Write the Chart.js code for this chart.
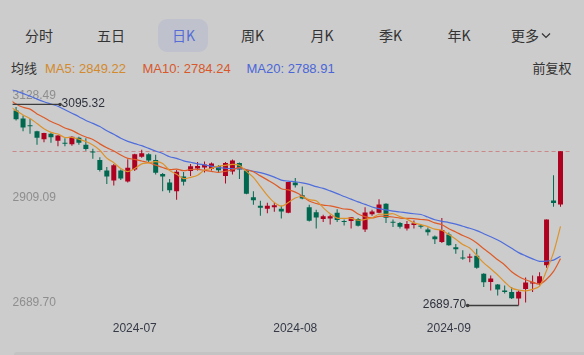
<!DOCTYPE html>
<html><head><meta charset="utf-8">
<script src="https://cdn.jsdelivr.net/npm/chart.js@4/dist/chart.umd.min.js"></script>
<style>
html,body{margin:0;padding:0;background:#cccccc;width:584px;height:355px;overflow:hidden;}
#wrap{position:relative;width:584px;height:355px;}
#c{position:absolute;left:0;top:0;}
.tab{position:absolute;top:25px;line-height:20px;height:20px;transform:translateX(-50%);font-size:14px;font-family:"Noto Sans CJK SC","Liberation Sans",sans-serif;color:#333;white-space:nowrap;}
#hl{position:absolute;left:158px;top:19px;width:50px;height:33px;border-radius:9px;background:#bfc2cc;}
.lg{position:absolute;top:60px;line-height:18px;font-size:13px;font-family:"Liberation Sans","Noto Sans CJK SC",sans-serif;white-space:nowrap;}
#strip{position:absolute;left:14px;top:352px;width:570px;height:3px;background:#c3c3c3;border-top-left-radius:3px;}
</style></head>
<body><div id="wrap">
<div id="hl"></div>
<div id="tabs"></div>
<div id="legend"></div>
<canvas id="c" width="584" height="355"></canvas>
<div id="strip"></div>
</div>
<script>
// ---------- data ----------
const preCloses = [3147.74,3128.48,3154.32,3154.55,3148.02,3145.77,3119.90,3122.40,3154.03,3171.15,3157.97,3158.54,3116.39,3088.87,3124.04,3109.57,3111.02,3091.68,3086.81];
const dates = [
'2024-06-03','2024-06-04','2024-06-05','2024-06-06','2024-06-07','2024-06-11','2024-06-12','2024-06-13','2024-06-14','2024-06-17','2024-06-18','2024-06-19','2024-06-20','2024-06-21','2024-06-24','2024-06-25','2024-06-26','2024-06-27','2024-06-28',
'2024-07-01','2024-07-02','2024-07-03','2024-07-04','2024-07-05','2024-07-08','2024-07-09','2024-07-10','2024-07-11','2024-07-12','2024-07-15','2024-07-16','2024-07-17','2024-07-18','2024-07-19','2024-07-22','2024-07-23','2024-07-24','2024-07-25','2024-07-26','2024-07-29','2024-07-30','2024-07-31',
'2024-08-01','2024-08-02','2024-08-05','2024-08-06','2024-08-07','2024-08-08','2024-08-09','2024-08-12','2024-08-13','2024-08-14','2024-08-15','2024-08-16','2024-08-19','2024-08-20','2024-08-21','2024-08-22','2024-08-23','2024-08-26','2024-08-27','2024-08-28','2024-08-29','2024-08-30',
'2024-09-02','2024-09-03','2024-09-04','2024-09-05','2024-09-06','2024-09-09','2024-09-10','2024-09-11','2024-09-12','2024-09-13','2024-09-18','2024-09-19','2024-09-20','2024-09-23','2024-09-24','2024-09-25','2024-09-26'];
const opens = [
3089,3070,3083,3067,3053,3041,3025,3036,3022,3017,3015,3028,3014,3000,2983,2962,2942,2962,2940,
2964,2990,2995,2983,2955,2938,2920,2950,2961,2966,2968,2965,2971,2951,2960,2977,2962,2908,2891,2885,2888,2885,2877,
2938,2912,2888,2878,2864,2865,2877,2860,2860,2864,2843,2874,2877,2895,2858,2856,2845,2852,2851,2843,2829,2818,
2833,2807,2786,2786,2790,2754,2737,2732,2720,2717,2704,2723,2734,2734,2770.75,2901.42,2893.51];
const highs = [
3093,3095.32,3090,3073,3066,3042,3038,3038,3033,3027,3031,3030,3027,3006,2989,2969,2975,2964,2985,
2996,3004,2997,2994,2957,2945,2963,2959,2975,2979,2980,2978,2973,2979,2984,2978,2963,2920,2901,2897,2897,2891,2939,
2947,2930,2893,2883,2873,2873,2884,2863,2868,2866,2888,2883,2904,2896,2863,2858,2860,2861,2853,2847,2831,2866,
2837,2814,2801,2794,2804,2755,2750,2733,2730,2727,2720,2746,2750,2757,2863.13,2952.45,3000.95];
const lows = [
3065,3061,3063,3041,3036,3014,3019,3018,3011,3011,3012,3014,3002,2986,2960,2935,2932,2943,2938,
2961,2988,2979,2954,2920,2917,2903,2932,2951,2962,2958,2962,2957,2936,2954,2945,2914,2893,2871,2876,2879,2865,2876,
2928,2904,2859,2845,2858,2853,2858,2851,2845,2849,2838,2871,2876,2856,2848,2845,2841,2845,2845,2831,2814,2816,
2810,2794,2782,2777,2764,2727,2720,2710,2714,2703,2689.70,2696,2717,2730,2765.80,2889.05,2889.00];
const closes = [
3078.49,3091.20,3065.40,3048.79,3051.28,3028.05,3037.47,3028.92,3032.63,3015.89,3030.25,3018.05,3005.44,2998.14,2963.10,2950.00,2972.53,2945.85,2967.40,
2994.73,2997.01,2982.38,2957.57,2949.93,2922.45,2959.37,2939.36,2970.39,2971.30,2974.01,2976.30,2962.70,2977.13,2982.31,2964.22,2915.37,2901.95,2886.74,2890.90,2891.85,2879.30,2938.75,
2932.39,2905.34,2860.70,2867.28,2869.90,2869.83,2862.19,2858.20,2867.95,2850.65,2877.36,2879.43,2893.67,2866.66,2856.58,2848.77,2854.37,2855.52,2848.73,2837.43,2823.11,2842.21,
2811.37,2802.98,2784.28,2788.31,2765.81,2736.49,2744.19,2721.80,2717.12,2704.09,2717.28,2736.02,2736.81,2748.92,2863.13,2896.31,3000.95];
const firstVisible = '2024-06-05';
const yTicks = [2689.70, 2909.09, 3128.49];
const monthLabels = ['2024-07','2024-08','2024-09'];
const maPeriods = [5, 10, 20];
const maLegendValues = [2849.22, 2784.24, 2788.91];
const tabNames = ['分时','五日','日K','周K','月K','季K','年K','更多'];

// ---------- styles ----------
const UP = '#ae001f', DOWN = '#00684f';
const MA_COLORS = ['#dd932c', '#de5b28', '#4f6ddc'];
const LEGEND_COLORS = ['#d38a2c', '#d9572a', '#4a66d8'];

// moving averages of the closes
const allC = preCloses.concat(closes);
function movingAvg(n){
  return closes.map((_, i) => {
    const j = i + preCloses.length; let s = 0;
    for (let k = j - n + 1; k <= j; k++) s += allC[k];
    return +(s / n).toFixed(2);
  });
}
const maSeries = maPeriods.map(movingAvg);

// ---------- html header ----------
const tabX = [39, 111, 183.5, 252.5, 322, 390.5, 459, 531];
const tabsEl = document.getElementById('tabs');
tabNames.forEach((t, i) => {
  const s = document.createElement('div');
  s.className = 'tab';
  s.style.left = tabX[i] + 'px';
  if (i === 2) s.style.color = '#566cd6';
  s.textContent = t;
  if (i === tabNames.length - 1) {
    s.innerHTML = t + '<svg width="10" height="7" style="margin-left:2px;vertical-align:2px" viewBox="0 0 10 7"><path d="M1 1.5 L5 5.5 L9 1.5" fill="none" stroke="#333" stroke-width="1.2"/></svg>';
  }
  tabsEl.appendChild(s);
});
const lg = document.getElementById('legend');
function addLg(text, left, color){
  const d = document.createElement('div'); d.className = 'lg';
  d.style.left = left + 'px'; d.style.color = color; d.textContent = text; lg.appendChild(d);
}
addLg('均线', 11, '#333');
const lgX = [45, 142.5, 246.5];
maPeriods.forEach((p, i) => addLg('MA' + p + ': ' + maLegendValues[i].toFixed(2), lgX[i], LEGEND_COLORS[i]));
addLg('前复权', 532.5, '#333');

// ---------- chart ----------
const bodies = opens.map((o, i) => [o, closes[i]]);
const wicks = lows.map((l, i) => [l, highs[i]]);
const candleColor = ctx => closes[ctx.dataIndex] >= opens[ctx.dataIndex] ? UP : DOWN;

const overlay = {
  id: 'overlay',
  beforeDatasetsDraw(chart){
    const {ctx, chartArea: a, scales: {y}} = chart;
    ctx.save();
    ctx.font = '12px "Liberation Sans", Arial, sans-serif';
    ctx.fillStyle = '#8e8e8e'; ctx.textAlign = 'left'; ctx.textBaseline = 'alphabetic';
    yTicks.forEach((v, k) => {
      const py = y.getPixelForValue(v);
      const off = k === 0 ? 0.5 : (k === yTicks.length - 1 ? 11 : 4.3);
      ctx.fillText(v.toFixed(2), a.left, py + off);
    });
    const lc = closes[closes.length - 1];
    const yl = Math.round(y.getPixelForValue(lc)) + 0.5;
    ctx.strokeStyle = 'rgba(200,80,80,0.55)'; ctx.lineWidth = 1; ctx.setLineDash([4, 3]);
    ctx.beginPath(); ctx.moveTo(a.left, yl); ctx.lineTo(a.right + 6, yl); ctx.stroke();
    ctx.restore();
  },
  afterDatasetsDraw(chart){
    const {ctx, chartArea: a, scales: {x, y}} = chart;
    ctx.save();
    ctx.beginPath(); ctx.rect(a.left, 0, chart.width - a.left, chart.height); ctx.clip();
    const mid = (a.left + a.right) / 2;
    const hiIdx = highs.indexOf(Math.max(...highs));
    const loIdx = lows.indexOf(Math.min(...lows));
    [[hiIdx, highs[hiIdx]], [loIdx, lows[loIdx]]].forEach(([idx, v]) => {
      const px = x.getPixelForValue(idx);
      const py = y.getPixelForValue(v);
      const dir = px < mid ? 1 : -1;
      const ex = px + dir * 51;
      ctx.strokeStyle = '#3c3c3c'; ctx.lineWidth = 1.3;
      ctx.beginPath(); ctx.moveTo(px, py); ctx.lineTo(ex, py); ctx.stroke();
      ctx.fillStyle = '#3c3c3c';
      ctx.beginPath(); ctx.arc(ex, py, 1.8, 0, Math.PI * 2); ctx.fill();
      ctx.font = '12px "Liberation Sans", Arial, sans-serif';
      ctx.fillStyle = '#2e323c'; ctx.textBaseline = 'middle';
      ctx.textAlign = dir > 0 ? 'left' : 'right';
      ctx.fillText(v.toFixed(2), ex + dir * 1.5, py - 0.5);
    });
    ctx.restore();
  }
};

new Chart(document.getElementById('c'), {
  type: 'bar',
  data: {
    labels: dates,
    datasets: [
      ...maSeries.map((s, i) => ({
        type: 'line', label: 'MA' + maPeriods[i], data: s,
        borderColor: MA_COLORS[i], borderWidth: 1.2, pointRadius: 0, tension: 0.3, order: 0
      })),
      { label: 'body', data: bodies, backgroundColor: candleColor, barThickness: 5, grouped: false,
        minBarLength: 1, inflateAmount: 0, borderWidth: 0, order: 1 },
      { label: 'wick', data: wicks, backgroundColor: candleColor, barThickness: 1, grouped: false,
        inflateAmount: 0, borderWidth: 0, order: 2 }
    ]
  },
  options: {
    responsive: false, animation: false, devicePixelRatio: 1, events: [],
    layout: { padding: { left: 11, right: 20, top: 88, bottom: 0 } },
    plugins: { legend: { display: false }, tooltip: { enabled: false } },
    scales: {
      x: {
        type: 'category', offset: true, min: firstVisible,
        grid: { display: false, drawTicks: false }, border: { display: false },
        afterFit(s){ s.height = 49.5; },
        ticks: {
          autoSkip: false, maxRotation: 0, padding: 16, color: '#353a46',
          font: { size: 12, family: '"Liberation Sans", Arial, sans-serif' },
          callback(v){
            const d = this.getLabelForValue(v); const m = d.slice(0, 7);
            const prev = v > 0 ? dates[v - 1].slice(0, 7) : '';
            return (monthLabels.includes(m) && prev !== m) ? m : '';
          }
        }
      },
      y: { type: 'linear', display: false, min: yTicks[0], max: yTicks[yTicks.length - 1] }
    }
  },
  plugins: [overlay]
});
</script>
</body></html>
